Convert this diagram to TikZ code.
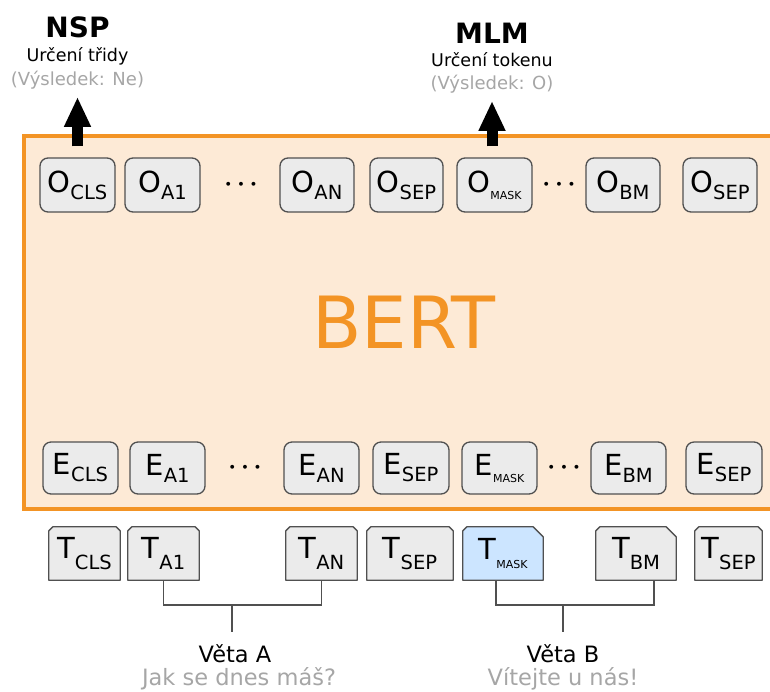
\documentclass[tikz,border=0pt]{standalone}
\usepackage{fontspec}
\setmainfont{DejaVu Sans}
\usetikzlibrary{arrows.meta,backgrounds}

\definecolor{bertorange}{HTML}{F39425}
\definecolor{bertfill}{HTML}{FDEAD6}
\definecolor{tokfill}{HTML}{EBEBEB}
\definecolor{tokline}{HTML}{505050}
\definecolor{maskfill}{HTML}{CCE5FF}
\definecolor{softgray}{HTML}{A6A6A6}

% token labels: main letter with a lowered subscript
\newcommand\tokO[2]{\fontsize{29}{29}\selectfont #1\raisebox{-7pt}{\fontsize{19.5}{19.5}\selectfont #2}}
\newcommand\tokM[1]{\fontsize{29}{29}\selectfont #1\raisebox{-7pt}{\fontsize{11}{11}\selectfont MASK}}
\newcommand\tokT[2]{\fontsize{29}{29}\selectfont #1\raisebox{-11pt}{\fontsize{19.5}{19.5}\selectfont #2}}
\newcommand\tokTM[1]{\fontsize{29}{29}\selectfont #1\raisebox{-9pt}{\fontsize{11}{11}\selectfont MASK}}
\newcommand\middots{{\fontsize{28}{28}\selectfont\boldmath$\cdots$}}

% outline of an input token: small top-left corner, cut top-right corner
\newcommand\tokframe[3][tokfill]{%
  \filldraw[tframe, fill=#1] (#2.south west) -- ([yshift=-4pt]#2.north west)
    -- ([xshift=4pt]#2.north west) -- ([xshift=-#3]#2.north east)
    -- ([yshift=-#3]#2.north east) -- (#2.south east) -- cycle;}

\begin{document}
\begin{tikzpicture}[x=1pt, y=-1pt,
  tok/.style={draw=tokline, fill=tokfill, rounded corners=8pt, line width=1.3pt,
    inner sep=1pt, text=black},
  orow/.style={tok, minimum height=54pt},
  erow/.style={tok, minimum height=52pt},
  trow/.style={inner sep=1pt, minimum height=53pt, text=black},
  tframe/.style={draw=tokline, line width=1.3pt, line join=round},
  dotsnode/.style={inner sep=0pt},
  bracket/.style={draw=tokline, line width=1.3pt},
  bigarrow/.style={line width=11pt, -{Triangle[width=25pt,length=30pt]}},
  headline/.style={anchor=base, inner sep=0pt, font=\bfseries\fontsize{28}{28}\selectfont},
  subline/.style={anchor=base, inner sep=0pt, font=\fontsize{17.5}{17.5}\selectfont},
  resline/.style={anchor=base, inner sep=0pt, font=\fontsize{18}{18}\selectfont, text=softgray},
  sentline/.style={anchor=base, inner sep=0pt, font=\fontsize{22.5}{22.5}\selectfont},
  sentgray/.style={anchor=base, inner sep=0pt, font=\fontsize{22.5}{22.5}\selectfont, text=softgray}]

\useasboundingbox (0,0) rectangle (770,691);
\clip (0,0) rectangle (770,691);

% model block
\filldraw[draw=bertorange, fill=bertfill, line width=4pt] (24,136) rectangle (800,509);
\node[font=\fontsize{72}{72}\selectfont, text=bertorange, inner sep=0pt] (bert) at (404,322) {BERT};

% output row
\node[orow, minimum width=75pt] (ocls)  at (77.5,185)  {\tokO{O}{CLS}};
\node[orow, minimum width=75pt] (oa1)   at (162.5,185) {\tokO{O}{A1}};
\node[dotsnode] (odots) at (241,185) {\middots};
\node[orow, minimum width=74pt] (oan)   at (317,185)   {\tokO{O}{AN}};
\node[orow, minimum width=73pt] (osep)  at (406.5,185) {\tokO{O}{SEP}};
\node[orow, minimum width=75pt] (omask) at (494.5,185) {\tokM{O}};
\node[dotsnode] (odots2) at (559,185) {\middots};
\node[orow, minimum width=74pt] (obm)   at (623,185)   {\tokO{O}{BM}};
\node[orow, minimum width=74pt] (osep2) at (720,185)   {\tokO{O}{SEP}};

% embedding row
\node[erow, minimum width=75pt] (ecls)  at (80.5,468)  {\tokO{E}{CLS}};
\node[erow, minimum width=75pt] (ea1)   at (167.5,468) {\tokO{E}{A1}};
\node[dotsnode] (edots) at (245,468) {\middots};
\node[erow, minimum width=75pt] (ean)   at (321.5,468) {\tokO{E}{AN}};
\node[erow, minimum width=76pt] (esep)  at (411,468)   {\tokO{E}{SEP}};
\node[erow, minimum width=75pt] (emask) at (499.5,468) {\tokM{E}};
\node[dotsnode] (edots2) at (564,468) {\middots};
\node[erow, minimum width=75pt] (ebm)   at (628.5,468) {\tokO{E}{BM}};
\node[erow, minimum width=76pt] (esep2) at (724,468)   {\tokO{E}{SEP}};

% input token row
\node[trow, minimum width=71pt] (tcls)  at (84.5,553.5)  {\tokT{T}{CLS}};
\node[trow, minimum width=71pt] (ta1)   at (163.5,553.5) {\tokT{T}{A1}};
\node[trow, minimum width=71pt] (tan)   at (321.5,553.5) {\tokT{T}{AN}};
\node[trow, minimum width=86pt] (tsep)  at (410,553.5)   {\tokT{T}{SEP}};
\node[trow, minimum width=80pt] (tmask) at (503,553.5)   {\tokTM{T}};
\node[trow, minimum width=80pt] (tbm)   at (636,553.5)   {\tokT{T}{BM}};
\node[trow, minimum width=67pt] (tsep2) at (728.5,553.5) {\tokT{T}{SEP}};

\begin{scope}[on background layer]
  \tokframe{tcls}{4pt}
  \tokframe{ta1}{4pt}
  \tokframe{tan}{4pt}
  \tokframe{tsep}{4pt}
  \tokframe[maskfill]{tmask}{10pt}
  \tokframe{tbm}{10pt}
  \tokframe{tsep2}{4pt}
\end{scope}

% task heads
\node[headline] (nsp)    at (77.5,37) {NSP};
\node[subline]  (nspsub) at (77.5,61) {Určení třidy};
\node[resline]  (nspres) at (77.5,85) {(Výsledek: Ne)};
\node[headline] (mlm)    at (492,43) {MLM};
\node[subline]  (mlmsub) at (492,66) {Určení tokenu};
\node[resline]  (mlmres) at (492,89) {(Výsledek: O)};

\draw[bigarrow] ([yshift=11pt]nspres.south |- ocls.north) -- ([yshift=-8pt]nspres.south);
\draw[bigarrow] ([yshift=11pt]mlmres.south |- omask.north) -- ([yshift=-8pt]mlmres.south);

% sentence groupings
\node[sentline] (vetaA) at (235,662) {Věta A};
\node[sentgray] (textA) at (239,685) {Jak se dnes máš?};
\node[sentline] (vetaB) at (563,662) {Věta B};
\node[sentgray] (textB) at (563,685) {Vítejte u nás!};

\coordinate (ja) at (232,605);
\coordinate (jb) at (563,605);
\draw[bracket] (ta1.south) |- (ja) -| (tan.south);
\draw[bracket] (ja) -- ([yshift=12pt]ja |- vetaA.north);
\draw[bracket] ([xshift=-7pt]tmask.south) |- (jb) -| ([xshift=18pt]tbm.south);
\draw[bracket] (jb) -- ([yshift=12pt]jb |- vetaB.north);

\end{tikzpicture}
\end{document}
